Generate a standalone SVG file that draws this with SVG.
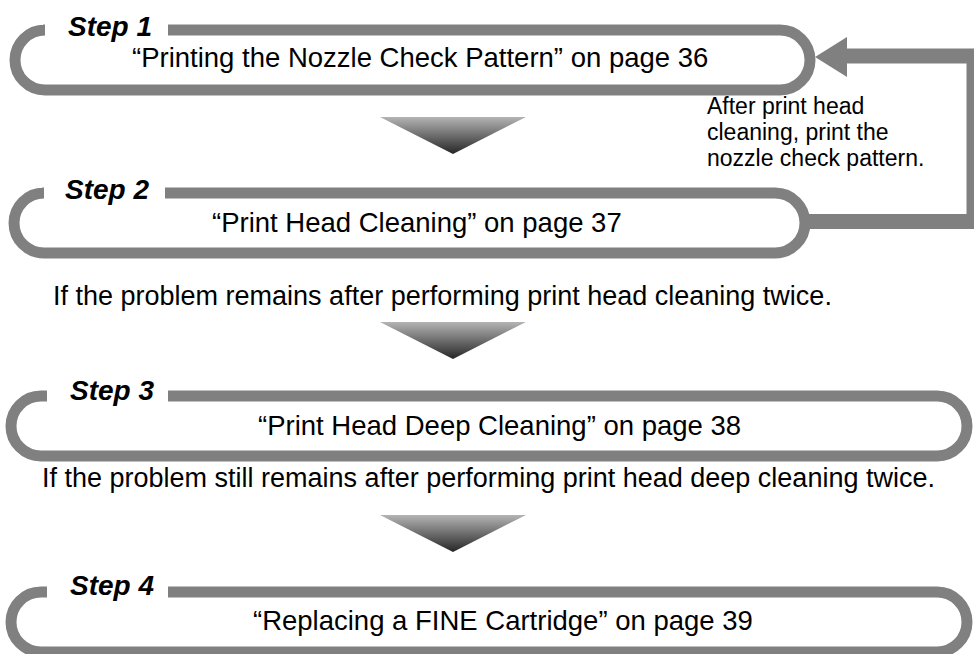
<svg xmlns="http://www.w3.org/2000/svg" width="974" height="654" viewBox="0 0 974 654">
<defs>
<linearGradient id="tri" x1="0" y1="0" x2="0" y2="1">
<stop offset="0" stop-color="#b4b4b4"/>
<stop offset="1" stop-color="#262626"/>
</linearGradient>
<style>
.box{fill:none;stroke:#808080;stroke-width:11;}
.step{font-family:"Liberation Sans",Arial,sans-serif;font-weight:bold;font-style:italic;font-size:28px;fill:#000;}
.title{font-family:"Liberation Sans",Arial,sans-serif;font-size:27.5px;fill:#000;}
.note{font-family:"Liberation Sans",Arial,sans-serif;font-size:27px;fill:#000;}
.side{font-family:"Liberation Sans",Arial,sans-serif;font-size:23px;fill:#000;}
.tri{fill:url(#tri);}
.fb{fill:none;stroke:#808080;stroke-width:15;stroke-linejoin:miter;}
</style>
</defs>
<rect width="974" height="654" fill="#fff"/>
<g id="step1">
<path class="box" d="M 43 30 H 45 A 30 30 0 0 0 45 90 H 780 A 30 30 0 0 0 780 30 H 168"/>
<text class="step" x="68" y="36">Step 1</text>
<text class="title" x="132" y="67">“Printing the Nozzle Check Pattern” on page 36</text>
</g>
<g id="step2">
<path class="box" d="M 42 193 H 44 A 30 30 0 0 0 44 253 H 775 A 30 30 0 0 0 775 193 H 165"/>
<text class="step" x="65" y="199">Step 2</text>
<text class="title" x="212" y="232">“Print Head Cleaning” on page 37</text>
</g>
<g id="step3">
<path class="box" d="M 47 396 H 41 A 30 30 0 0 0 41 456 H 937 A 30 30 0 0 0 937 396 H 168"/>
<text class="step" x="70" y="400">Step 3</text>
<text class="title" x="258" y="435">“Print Head Deep Cleaning” on page 38</text>
</g>
<g id="step4">
<path class="box" d="M 47 592 H 41 A 30 30 0 0 0 41 652 H 937 A 30 30 0 0 0 937 592 H 168"/>
<text class="step" x="70" y="595">Step 4</text>
<text class="title" x="253" y="630">“Replacing a FINE Cartridge” on page 39</text>
</g>
<g id="connectors">
<polygon class="tri" points="380,117 526,117 453,154"/>
<polygon class="tri" points="380,322 526,322 453,359"/>
<polygon class="tri" points="380,515 526,515 453,552"/>
<path class="fb" d="M 808 221.5 H 974 V 56 H 845"/>
<polygon points="815,57 847,37 847,77" fill="#808080"/>
<text class="note" x="53" y="305">If the problem remains after performing print head cleaning twice.</text>
<text class="note" x="42" y="487">If the problem still remains after performing print head deep cleaning twice.</text>
<text class="side" x="707" y="114">After print head</text>
<text class="side" x="707" y="140">cleaning, print the</text>
<text class="side" x="707" y="166">nozzle check pattern.</text>
</g>
</svg>
